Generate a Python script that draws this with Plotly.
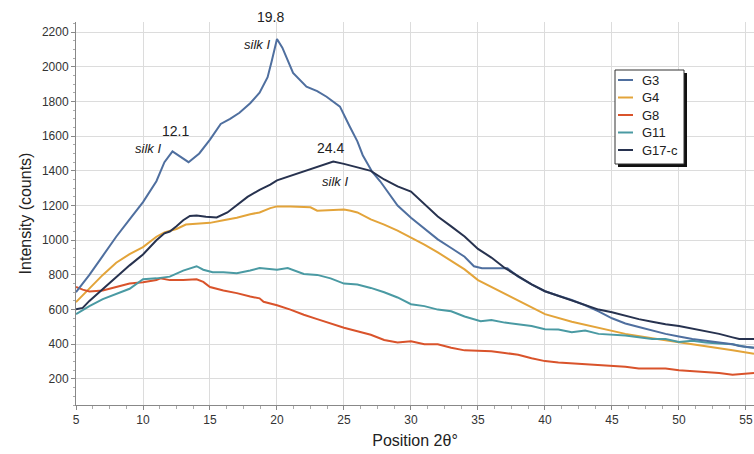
import plotly.graph_objects as go

# ---- data ----
x_g3 = [5, 6, 7, 8, 9, 10, 11, 11.6, 12.2, 12.6, 13.4, 14.2, 15, 15.8, 16.5, 17.2, 18, 18.7, 19.3, 19.6, 20.0, 20.4, 21.2, 22.2, 23, 23.7, 24.7, 25.4, 26, 26.4, 27.1, 27.7, 28.5, 29, 30, 31, 32, 33, 34, 34.7, 35.3, 37.2, 38, 39, 40, 41, 42, 43, 44, 45, 46, 47, 48, 49, 50, 51, 52, 53, 54, 54.5, 55.6]
y_g3 = [700, 800, 910, 1020, 1120, 1220, 1340, 1450, 1512, 1490, 1450, 1500, 1580, 1670, 1700, 1735, 1790, 1850, 1940, 2030, 2160, 2110, 1965, 1885, 1860, 1827, 1770, 1660, 1570, 1490, 1395, 1340, 1250, 1200, 1130, 1065, 1005, 955, 905, 850, 838, 838, 790, 745, 706, 680, 655, 625, 590, 550, 520, 500, 480, 460, 445, 430, 420, 410, 400, 390, 380]

x_g17 = [5, 5.5, 6, 7, 8, 9, 10, 11, 11.6, 12, 12.5, 13, 13.5, 14, 14.7, 15.5, 16.3, 17, 17.8, 18.7, 19.5, 20, 21, 22, 23, 24.2, 25, 26, 27, 28, 29, 30, 31, 32, 33, 34, 35, 36, 37, 38, 39, 40, 41, 42, 43, 44, 45, 46, 47, 48, 49, 50, 51, 52, 53, 54, 54.5, 55.6]
y_g17 = [602, 610, 650, 720, 790, 855, 918, 1000, 1040, 1050, 1080, 1115, 1140, 1143, 1135, 1131, 1160, 1200, 1250, 1290, 1320, 1345, 1370, 1395, 1420, 1453, 1440, 1420, 1400, 1350, 1310, 1280, 1210, 1137, 1080, 1022, 950, 900, 840, 790, 745, 706, 680, 655, 625, 600, 585, 565, 545, 530, 515, 505, 490, 475, 460, 440, 430, 430]

x_g4 = [5, 6, 7, 8, 9, 10, 11, 11.6, 12.5, 13.2, 14, 15, 16, 17, 18, 18.7, 19.5, 20, 21, 22, 22.5, 23, 24, 25, 25.5, 26, 27, 28, 29, 30, 31, 32, 33, 34, 35, 36, 37, 38, 39, 40, 42, 44, 45, 46, 48, 50, 52, 54, 55.6]
y_g4 = [643, 720, 800, 870, 920, 960, 1020, 1045, 1065, 1090, 1095, 1100, 1115, 1130, 1150, 1160, 1185, 1195, 1195, 1193, 1190, 1170, 1172, 1177, 1170, 1160, 1120, 1090, 1055, 1015, 975, 930, 880, 832, 770, 730, 690, 650, 610, 574, 530, 495, 476, 460, 435, 413, 390, 365, 345]

x_g11 = [5, 6, 7, 8, 9, 10, 11, 12, 13, 14, 14.5, 15.2, 16, 17, 18, 18.7, 19.5, 20, 20.8, 21.5, 22, 23, 24, 25, 26, 27, 28, 29, 30, 31, 32, 33, 34, 35.2, 36, 37, 38, 39, 40, 41, 42, 43, 44, 45, 46, 47, 48, 49, 50, 51, 52, 53, 54, 55, 55.6]
y_g11 = [574, 620, 660, 690, 720, 775, 780, 790, 825, 850, 830, 815, 815, 810, 825, 840, 835, 830, 840, 820, 805, 800, 780, 750, 745, 725, 700, 670, 631, 620, 600, 590, 560, 533, 540, 525, 515, 505, 487, 485, 470, 480, 460, 455, 450, 440, 430, 430, 413, 420, 410, 405, 400, 384, 380]

x_g8 = [5, 5.5, 6, 7, 8, 9, 10, 11, 11.3, 12, 13, 14, 14.5, 15, 16, 17, 18, 18.7, 19, 20, 21, 22, 23, 24, 25, 26, 27, 28, 29, 30, 31, 32, 33, 34, 35.2, 36, 37, 38, 39, 40, 41, 42, 43, 44, 45, 46, 47, 48, 49, 50, 51, 52, 53, 54, 55, 55.6]
y_g8 = [730, 715, 705, 710, 730, 750, 757, 770, 780, 770, 770, 775, 760, 730, 710, 695, 675, 665, 645, 625, 600, 570, 545, 520, 495, 475, 455, 425, 410, 418, 400, 400, 380, 365, 361, 360, 350, 340, 320, 303, 295, 290, 285, 280, 275, 270, 260, 260, 260, 250, 245, 240, 235, 225, 229, 235]

series_names = ["G3", "G4", "G8", "G11", "G17-c"]
series_colors = ["#4f6f9f", "#e3a43a", "#d9532b", "#4a9aa3", "#27324f"]

x_ticks = [5, 10, 15, 20, 25, 30, 35, 40, 45, 50, 55]
y_ticks = [200, 400, 600, 800, 1000, 1200, 1400, 1600, 1800, 2000, 2200]

peak_labels = ["12.1", "19.8", "24.4"]
phase_label = "silk I"

FONT = "Liberation Sans, Arial, sans-serif"

# plot-area geometry (pixels) used for layout placement
W, H = 754, 454
ML, MR, MT, MB = 76, 0, 22, 49
PW, PH = W - ML - MR, H - MT - MB


def px(xp):
    return (xp - ML) / PW


def py(yp):
    return 1 - (yp - MT) / PH


fig = go.Figure()
data = [(x_g3, y_g3), (x_g4, y_g4), (x_g8, y_g8), (x_g11, y_g11), (x_g17, y_g17)]
order = [1, 2, 3, 0, 4]  # draw order
for i in order:
    xs, ys = data[i]
    fig.add_trace(go.Scatter(x=xs, y=ys, mode="lines", name=series_names[i],
                             line=dict(color=series_colors[i], width=2),
                             showlegend=False))

ann_font = dict(family=FONT, size=14, color="#222")
ital_font = dict(family=FONT, size=13, color="#222")
anns = [
    dict(x=19.5, y=1.012, yref="y domain", yanchor="middle", text=peak_labels[1], font=ann_font),
    dict(x=18.5, y=2130, yref="y", text="<i>" + phase_label + "</i>", font=ital_font),
    dict(x=12.4, y=1630, yref="y", text=peak_labels[0], font=ann_font),
    dict(x=10.4, y=1530, yref="y", text="<i>" + phase_label + "</i>", font=ital_font),
    dict(x=24.0, y=1530, yref="y", text=peak_labels[2], font=ann_font),
    dict(x=24.3, y=1340, yref="y", text="<i>" + phase_label + "</i>", font=ital_font),
]
for a in anns:
    fig.add_annotation(xref="x", showarrow=False, **a)

# ---- legend box (drawn in paper space) ----
lx0, lx1, ly0, ly1 = 615, 684, 70, 164
fig.add_shape(type="rect", xref="paper", yref="paper",
              x0=px(lx0 + 3), x1=px(lx1 + 3), y0=py(ly1 + 3), y1=py(ly0 + 3),
              fillcolor="#111", line=dict(width=0), layer="above")
fig.add_shape(type="rect", xref="paper", yref="paper",
              x0=px(lx0), x1=px(lx1), y0=py(ly1), y1=py(ly0),
              fillcolor="white", line=dict(color="#333", width=1), layer="above")
row_y = [80, 97.5, 115, 132.5, 150]
for name, col, ry in zip(series_names, series_colors, row_y):
    fig.add_shape(type="line", xref="paper", yref="paper",
                  x0=px(618), x1=px(633), y0=py(ry), y1=py(ry),
                  line=dict(color=col, width=2), layer="above")
    fig.add_annotation(xref="paper", yref="paper", x=px(640), y=py(ry),
                       xanchor="left", yanchor="middle", showarrow=False,
                       text=name, font=dict(family=FONT, size=13, color="#222"))

fig.update_layout(
    width=W, height=H,
    margin=dict(l=ML, r=MR, t=MT, b=MB),
    paper_bgcolor="white", plot_bgcolor="white",
    font=dict(family=FONT, color="#333"),
    showlegend=False,
)
fig.update_xaxes(range=[5, 55.6], tickvals=x_ticks, showgrid=True, gridcolor="#dcdcdc",
                 showline=True, linecolor="#888", ticks="outside", ticklen=4, tickcolor="#888",
                 minor=dict(dtick=1.25, ticks="outside", ticklen=3, tickcolor="#aaa", showgrid=False),
                 tickfont=dict(size=12, color="#333"), zeroline=False,
                 title=dict(text="Position 2θ°", font=dict(size=16, color="#222"), standoff=8))
fig.update_yaxes(range=[50, 2258], tickvals=y_ticks, showgrid=True, gridcolor="#dcdcdc",
                 showline=True, linecolor="#888", ticks="outside", ticklen=4, tickcolor="#888",
                 minor=dict(dtick=50, ticks="outside", ticklen=2, tickcolor="#aaa", showgrid=False),
                 tickfont=dict(size=12, color="#333"), zeroline=False,
                 title=dict(text="Intensity (counts)", font=dict(size=16, color="#222"), standoff=6))

fig.write_html("out.html")
